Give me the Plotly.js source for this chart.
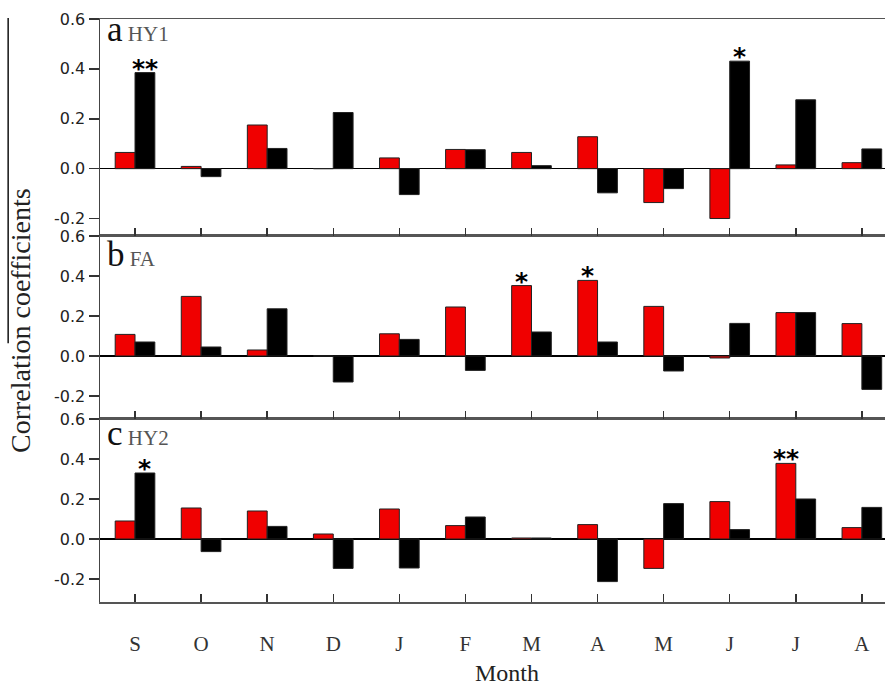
<!DOCTYPE html>
<html>
<head>
<meta charset="utf-8">
<script src="https://cdn.plot.ly/plotly-3.0.1.min.js"></script>
<style>html,body{margin:0;padding:0;background:#fff;}#chart{width:885px;height:687px;}</style>
</head>
<body>
<div id="chart"></div>
<script>
// ---- data ----
const months = ['S','O','N','D','J','F','M','A','M','J','J','A'];
const monthIdx = [0,1,2,3,4,5,6,7,8,9,10,11];

// panel a: HY1
const hy1Red   = [0.065, 0.009, 0.175, 0.000, 0.043, 0.077, 0.065, 0.128, -0.136, -0.200, 0.015, 0.024];
const hy1Black = [0.385, -0.032, 0.081, 0.225, -0.104, 0.076, 0.012, -0.097, -0.080, 0.431, 0.276, 0.079];
// panel b: FA
const faRed    = [0.108, 0.298, 0.030, 0.000, 0.111, 0.245, 0.352, 0.378, 0.248, -0.010, 0.217, 0.162];
const faBlack  = [0.070, 0.045, 0.236, -0.130, 0.083, -0.072, 0.120, 0.070, -0.075, 0.163, 0.217, -0.167];
// panel c: HY2
const hy2Red   = [0.090, 0.155, 0.140, 0.025, 0.150, 0.067, 0.005, 0.072, -0.147, 0.187, 0.378, 0.057];
const hy2Black = [0.330, -0.063, 0.063, -0.147, -0.145, 0.110, 0.005, -0.213, 0.177, 0.047, 0.200, 0.158];

// significance marks: [month index, series ('red'|'black'), label]
const sigA = [[0,'black','**'],[9,'black','*']];
const sigB = [[6,'red','*'],[7,'red','*']];
const sigC = [[0,'black','*'],[10,'red','**']];

const panelLetters = ['a','b','c'];
const panelNames = ['HY1','FA','HY2'];
const yTickVals = [-0.2, 0.0, 0.2, 0.4, 0.6];
const yTickText = ['-0.2', '0.0', '0.2', '0.4', '0.6'];

// ---- styles ----
const RED = '#f00000', BLACK = '#000000', OUT = '#222222';
const serif = 'Liberation Serif, Times New Roman, serif';
const sans = 'DejaVu Sans, Arial, sans-serif';

const panels = [
  {red: hy1Red, black: hy1Black, sig: sigA, xa: 'x3', ya: 'y3', range: [-0.27, 0.6], lblShift: 10},
  {red: faRed,  black: faBlack,  sig: sigB, xa: 'x2', ya: 'y2', range: [-0.315, 0.6], lblShift: 2},
  {red: hy2Red, black: hy2Black, sig: sigC, xa: 'x',  ya: 'y',  range: [-0.315, 0.6], lblShift: 6}
];

const traces = [];
const annotations = [];
panels.forEach((p, k) => {
  traces.push({type:'bar', x: monthIdx, y: p.red, xaxis: p.xa, yaxis: p.ya, name:'red',
    marker:{color: RED, line:{color: OUT, width:1}}, showlegend:false, hoverinfo:'y'});
  traces.push({type:'bar', x: monthIdx, y: p.black, xaxis: p.xa, yaxis: p.ya, name:'black',
    marker:{color: BLACK, line:{color: OUT, width:1}}, showlegend:false, hoverinfo:'y'});
  p.sig.forEach(s => {
    const i = s[0];
    const v = s[1] === 'red' ? p.red[i] : p.black[i];
    annotations.push({xref: p.xa, yref: p.ya, x: i + (s[1] === 'red' ? -0.15 : 0.15), y: v,
      text: s[2], showarrow:false, xanchor:'center', yanchor:'bottom', yshift:-11, borderpad:0,
      font:{family: sans, size: 25, color:'#000', weight:'bold'}});
  });
  annotations.push({xref:'paper', yref: p.ya + ' domain', x: 0.008, y: 1, xanchor:'left', yanchor:'top',
    yshift: p.lblShift, showarrow:false, borderpad:0,
    text: '<span style="font-size:35px;color:#111">' + panelLetters[k] + '</span> <span style="font-size:21px;color:#555">' + panelNames[k] + '</span>',
    font:{family: serif, size: 21}});
});

annotations.push({xref:'paper', yref:'paper', x: -0.1006, y: 0.482, textangle: -90, showarrow:false,
  xanchor:'center', yanchor:'middle', text:'Correlation coefficients', font:{family: serif, size: 28, color:'#222'}});
annotations.push({xref:'paper', yref:'paper', x: 0.518, y: -0.122, showarrow:false,
  xanchor:'center', yanchor:'middle', text:'Month', font:{family: serif, size: 24, color:'#222'}});

function xAxis(anchor, showLabels) {
  return {anchor: anchor, range: [-0.53, 11.35], tickmode:'array', tickvals: monthIdx, ticktext: months,
    showticklabels: showLabels, ticks:'inside', ticklen: 8, tickwidth: 1.5, tickcolor:'#333',
    showline:true, mirror:true, linecolor:'#555', linewidth:1.5, showgrid:false, zeroline:false,
    ticklabelstandoff: 22, tickfont:{family: serif, size: 21, color:'#333'}};
}
function yAxis(domain, range, anchor) {
  return {domain: domain, range: range, anchor: anchor, tickmode:'array', tickvals: yTickVals,
    ticktext: yTickText, ticks:'outside', ticklen: 10, tickwidth:1.5, tickcolor:'#333',
    showline:true, linecolor:'#444', linewidth:1.5, showgrid:false,
    zeroline:true, zerolinecolor:'#000', zerolinewidth:1.5,
    tickfont:{family: sans, size: 16, color:'#222'}};
}

const layout = {
  width: 885, height: 687,
  margin: {l:100, r:0, t:19, b:85, pad:0},
  paper_bgcolor:'#fff', plot_bgcolor:'#fff',
  barmode:'group', bargap:0.4, bargroupgap:0,
  xaxis: xAxis('y', true),
  xaxis2: xAxis('y2', false),
  xaxis3: xAxis('y3', false),
  yaxis: yAxis([0, 0.3139], panels[2].range, 'x'),
  yaxis2: yAxis([0.3139, 0.6278], panels[1].range, 'x2'),
  yaxis3: yAxis([0.6278, 1], panels[0].range, 'x3'),
  annotations: annotations,
  shapes: [{type:'line', xref:'paper', yref:'paper', x0:-0.117, x1:-0.117, y0:0.444, y1:1.0017,
    line:{color:'#111', width:1.5}}]
};

Plotly.newPlot('chart', traces, layout, {displayModeBar:false, staticPlot:true});
</script>
</body>
</html>
